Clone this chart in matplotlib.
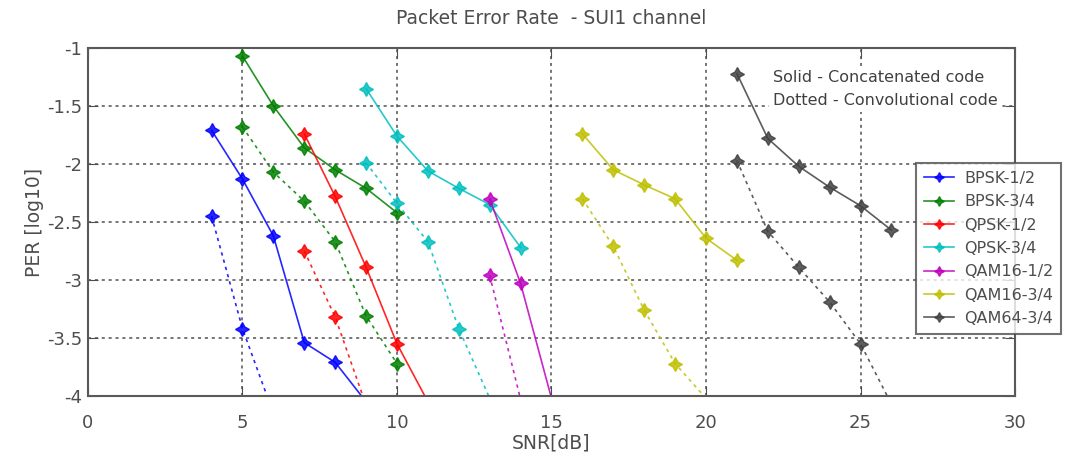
import matplotlib
matplotlib.use("Agg")
import matplotlib.pyplot as plt
import numpy as np

plt.rcParams['font.family'] = ['DejaVu Sans']

labels = ['BPSK-1/2', 'BPSK-3/4', 'QPSK-1/2', 'QPSK-3/4', 'QAM16-1/2', 'QAM16-3/4', 'QAM64-3/4']
colors = [(0, 0, 1), (0, 0.5, 0), (1, 0, 0), (0, 0.75, 0.75), (0.75, 0, 0.75), (0.75, 0.75, 0), (0.25, 0.25, 0.25)]

# Solid: concatenated code
bpsk12_c_x = [4, 5, 6, 7, 8, 9]
bpsk12_c_y = [-1.71, -2.13, -2.62, -3.54, -3.71, -4.05]
bpsk34_c_x = [5, 6, 7, 8, 9, 10]
bpsk34_c_y = [-1.07, -1.50, -1.86, -2.05, -2.21, -2.42]
qpsk12_c_x = [7, 8, 9, 10, 11]
qpsk12_c_y = [-1.74, -2.28, -2.89, -3.55, -4.05]
qpsk34_c_x = [9, 10, 11, 12, 13, 14]
qpsk34_c_y = [-1.35, -1.76, -2.06, -2.21, -2.35, -2.72]
qam1612_c_x = [13, 14, 15]
qam1612_c_y = [-2.30, -3.03, -4.02]
qam1634_c_x = [16, 17, 18, 19, 20, 21]
qam1634_c_y = [-1.74, -2.05, -2.18, -2.30, -2.64, -2.83]
qam6434_c_x = [21, 22, 23, 24, 25, 26]
qam6434_c_y = [-1.22, -1.78, -2.02, -2.20, -2.36, -2.57]

# Dotted: convolutional code
bpsk12_v_x = [4, 5, 6]
bpsk12_v_y = [-2.45, -3.42, -4.15]
bpsk34_v_x = [5, 6, 7, 8, 9, 10]
bpsk34_v_y = [-1.68, -2.07, -2.32, -2.67, -3.31, -3.72]
qpsk12_v_x = [7, 8, 9]
qpsk12_v_y = [-2.75, -3.32, -4.08]
qpsk34_v_x = [9, 10, 11, 12, 13]
qpsk34_v_y = [-1.99, -2.34, -2.67, -3.42, -4.02]
qam1612_v_x = [13, 14]
qam1612_v_y = [-2.96, -4.03]
qam1634_v_x = [16, 17, 18, 19, 20]
qam1634_v_y = [-2.30, -2.71, -3.26, -3.72, -4.02]
qam6434_v_x = [21, 22, 23, 24, 25, 26]
qam6434_v_y = [-1.97, -2.58, -2.89, -3.19, -3.55, -4.07]

solid = [(bpsk12_c_x, bpsk12_c_y), (bpsk34_c_x, bpsk34_c_y), (qpsk12_c_x, qpsk12_c_y),
         (qpsk34_c_x, qpsk34_c_y), (qam1612_c_x, qam1612_c_y), (qam1634_c_x, qam1634_c_y),
         (qam6434_c_x, qam6434_c_y)]
dotted = [(bpsk12_v_x, bpsk12_v_y), (bpsk34_v_x, bpsk34_v_y), (qpsk12_v_x, qpsk12_v_y),
          (qpsk34_v_x, qpsk34_v_y), (qam1612_v_x, qam1612_v_y), (qam1634_v_x, qam1634_v_y),
          (qam6434_v_x, qam6434_v_y)]

note = 'Solid - Concatenated code\nDotted - Convolutional code'

xlim = (0, 30)
ylim = (-4, -1)

fig = plt.figure(figsize=(10.69, 4.59), dpi=100)
ax = fig.add_axes([0.0823, 0.1373, 0.8672, 0.7581])

star = (4, 1, 0)
handles = []
for (x, y), c, lab in zip(solid, colors, labels):
    mask = [v >= ylim[0] for v in y]
    h, = ax.plot(x, y, '-', color=c, lw=1.2, marker=star, ms=10, markevery=mask,
                 label=lab, alpha=0.85)
    handles.append(h)
for (x, y), c in zip(dotted, colors):
    mask = [v >= ylim[0] for v in y]
    ax.plot(x, y, color=c, lw=1.2, ls=(0, (2, 2.5)), marker=star, ms=10, markevery=mask,
            alpha=0.85)

ax.set_xlim(*xlim)
ax.set_ylim(*ylim)
ax.set_xticks([0, 5, 10, 15, 20, 25, 30])
ax.set_yticks([-4, -3.5, -3, -2.5, -2, -1.5, -1])
ax.set_yticklabels(['-4', '-3.5', '-3', '-2.5', '-2', '-1.5', '-1'])
ax.grid(True, color='0.2', ls=(0, (2, 2.5)), lw=1.1, alpha=0.85)
ax.tick_params(direction='in', length=7, top=True, right=True, colors='0.3',
               labelsize=13, labelcolor='0.3')
ax.tick_params(axis='x', pad=13)
ax.tick_params(axis='y', pad=4)
for s in ax.spines.values():
    s.set_color('0.35')
    s.set_linewidth(1.5)

ax.set_title('Packet Error Rate  - SUI1 channel', fontsize=13.5, color='0.3', pad=17)
ax.set_xlabel('SNR[dB]', fontsize=13.5, color='0.3', labelpad=1)
ax.set_ylabel('PER [log10]', fontsize=13.5, color='0.3', labelpad=2)

ax.text(22.17, -1.353, note, fontsize=11.5, color='0.25', va='center', ha='left',
        linespacing=1.65, zorder=5,
        bbox=dict(facecolor='white', edgecolor='none', boxstyle='square,pad=0.25'))

leg = ax.legend(handles=handles, loc='upper left', bbox_to_anchor=(0.8932, 0.6695),
                borderaxespad=0, fontsize=11.5, frameon=True, fancybox=False, edgecolor='0.3',
                handlelength=1.9, handletextpad=0.6, labelspacing=0.52,
                borderpad=0.5, markerscale=0.7)
leg.get_frame().set_linewidth(1.5)
for t in leg.get_texts():
    t.set_color('0.3')

fig.savefig('out.png', dpi=100)
